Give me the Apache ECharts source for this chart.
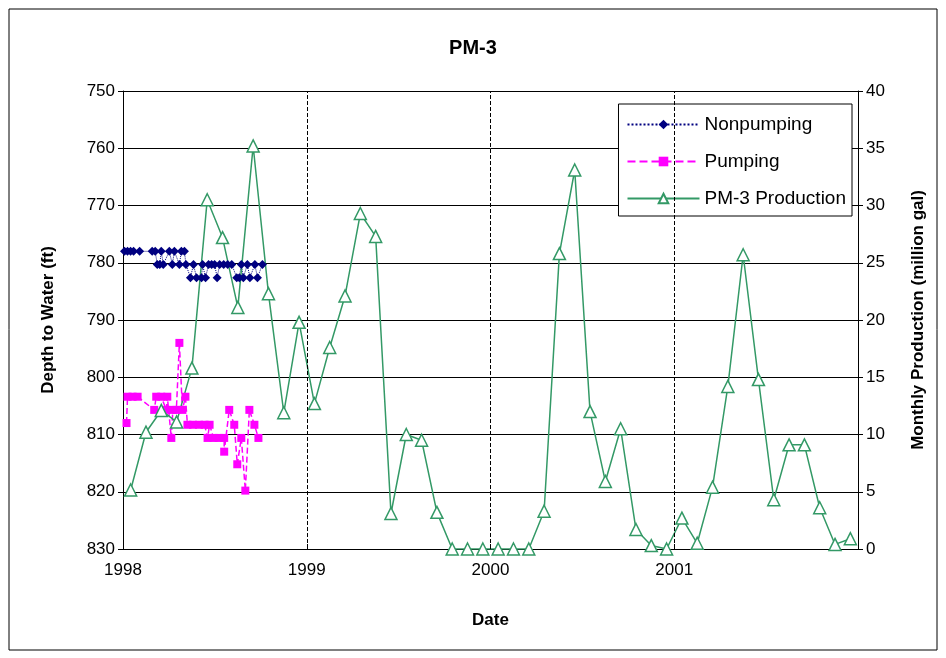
<!DOCTYPE html>
<html><head><meta charset="utf-8">
<script src="https://cdn.jsdelivr.net/npm/echarts@6/dist/echarts.min.js"></script>
<style>body{margin:0;background:#fff}#c{width:946px;height:658px}</style>
</head><body><div id="c"></div>
<script>
// depth to water, nonpumping (ft)
const nonpumping = [
  ['1998-01-04',778],['1998-01-10',778],['1998-01-16',778],['1998-01-22',778],['1998-02-03',778],
  ['1998-02-28',778],['1998-03-06',778],['1998-03-10',780.3],['1998-03-15',780.3],['1998-03-18',778],
  ['1998-03-22',780.3],['1998-04-03',778],['1998-04-09',780.3],['1998-04-13',778],['1998-04-23',780.3],
  ['1998-04-27',778],['1998-05-03',778],['1998-05-06',780.3],['1998-05-15',782.6],['1998-05-21',780.3],
  ['1998-05-27',782.6],['1998-06-06',782.6],['1998-06-08',780.3],['1998-06-14',782.6],['1998-06-20',780.3],
  ['1998-06-26',780.3],['1998-07-02',780.3],['1998-07-07',782.6],['1998-07-12',780.3],['1998-07-20',780.3],
  ['1998-07-28',780.3],['1998-08-05',780.3],['1998-08-15',782.6],['1998-08-20',782.6],['1998-08-24',780.3],
  ['1998-08-28',782.6],['1998-09-05',780.3],['1998-09-10',782.6],['1998-09-20',780.3],['1998-09-25',782.6],
  ['1998-10-05',780.3]
];
// depth to water, pumping (ft)
const pumping = [
  ['1998-01-08',808],['1998-01-10',803.4],['1998-01-20',803.4],['1998-01-30',803.4],['1998-03-04',805.7],
  ['1998-03-08',803.4],['1998-03-18',803.4],['1998-03-28',805.7],['1998-03-30',803.4],['1998-04-07',810.6],
  ['1998-04-10',805.7],['1998-04-17',805.7],['1998-04-23',794],['1998-04-29',805.7],['1998-05-05',803.4],
  ['1998-05-09',808.3],['1998-05-20',808.3],['1998-06-01',808.3],['1998-06-12',808.3],['1998-06-18',810.6],
  ['1998-06-22',808.3],['1998-06-30',810.6],['1998-07-10',810.6],['1998-07-21',810.6],['1998-07-21',813],
  ['1998-07-31',805.7],['1998-08-10',808.3],['1998-08-16',815.2],['1998-08-24',810.6],['1998-09-01',819.8],
  ['1998-09-09',805.7],['1998-09-19',808.3],['1998-09-27',810.6]
];
// monthly production (million gal), Jan 1998 - Dec 2001
const production = [
  5.15,10.2,12.1,11.1,15.8,30.5,27.2,21.1,35.2,22.3,11.9,19.8,
  12.7,17.6,22.1,29.3,27.3,3.1,10,9.5,3.2,0,0,0,
  0,0,0,3.3,25.8,33.1,12,5.9,10.5,1.7,0.3,0,
  2.7,0.5,5.4,14.2,25.7,14.8,4.3,9.1,9.1,3.6,0.4,0.9
];
const yearLines = [1999, 2000, 2001];

// date -> fractional year
const toYear = s => {
  const d = new Date(s + 'T00:00:00Z'), y = d.getUTCFullYear();
  const a = Date.UTC(y, 0, 1), b = Date.UTC(y + 1, 0, 1);
  return y + (d - a) / (b - a);
};
const prodData = production.map((v, i) => [1998 + Math.floor(i / 12) + ((i % 12) + 0.5) / 12, v]);
const font = 'Arial, "Liberation Sans", sans-serif';

const chart = echarts.init(document.getElementById('c'));
chart.setOption({
  animation: false,
  textStyle: {fontFamily: font},
  graphic: [{type: 'rect', shape: {x: 9, y: 9, width: 928, height: 641}, style: {fill: 'none', stroke: '#000', lineWidth: 1}}],
  title: {text: 'PM-3', left: 'center', top: 33, textStyle: {fontSize: 20, fontWeight: 'bold', color: '#000', fontFamily: font}},
  legend: {
    right: 94, top: 104, orient: 'vertical', itemGap: 18, itemWidth: 72, itemHeight: 12,
    backgroundColor: '#fff', borderColor: '#000', borderWidth: 1, padding: [11, 6, 8, 8],
    textStyle: {fontSize: 19, color: '#000', fontFamily: font},
    data: ['Nonpumping', 'Pumping', 'PM-3 Production']
  },
  grid: {left: 123, right: 88, top: 91, bottom: 109},
  xAxis: {
    type: 'value', min: 1998, max: 2002, interval: 1,
    name: 'Date', nameLocation: 'middle', nameGap: 63,
    nameTextStyle: {fontSize: 17, fontWeight: 'bold', color: '#000'},
    axisLine: {lineStyle: {color: '#000'}},
    axisTick: {lineStyle: {color: '#000'}, length: 5, inside: true},
    axisLabel: {formatter: v => v >= 2002 ? '' : String(v), fontSize: 17, color: '#000', margin: 13},
    splitLine: {show: false}
  },
  yAxis: [{
    type: 'value', inverse: true, min: 750, max: 830, interval: 10,
    name: 'Depth to Water (ft)', nameLocation: 'middle', nameGap: 66,
    nameTextStyle: {fontSize: 17, fontWeight: 'bold', color: '#000'},
    axisLine: {show: true, lineStyle: {color: '#000'}},
    axisTick: {show: true, lineStyle: {color: '#000'}},
    axisLabel: {fontSize: 17, color: '#000'},
    splitLine: {lineStyle: {color: '#000', width: 1}}
  }, {
    type: 'value', min: 0, max: 40, interval: 5,
    name: 'Monthly Production (million gal)', nameLocation: 'middle', nameGap: 52,
    nameTextStyle: {fontSize: 17, fontWeight: 'bold', color: '#000'},
    axisLine: {show: true, lineStyle: {color: '#000'}},
    axisTick: {show: true, lineStyle: {color: '#000'}},
    axisLabel: {fontSize: 17, color: '#000'},
    splitLine: {show: false}
  }],
  series: [{
    name: 'Nonpumping', type: 'line', yAxisIndex: 0, data: nonpumping.map(d => [toYear(d[0]), d[1]]),
    symbol: 'diamond', symbolSize: 9, itemStyle: {color: '#000080'},
    lineStyle: {color: '#000080', type: 'dotted', width: 1}
  }, {
    name: 'Pumping', type: 'line', yAxisIndex: 0, data: pumping.map(d => [toYear(d[0]), d[1]]),
    symbol: 'rect', symbolSize: 8, itemStyle: {color: '#ff00ff'},
    lineStyle: {color: '#ff00ff', type: 'dashed', width: 1.5}
  }, {
    name: 'PM-3 Production', type: 'line', yAxisIndex: 1, data: prodData,
    symbol: 'triangle', symbolSize: 12,
    itemStyle: {color: '#fff', borderColor: '#339966', borderWidth: 1.5},
    lineStyle: {color: '#339966', width: 1.5},
    markLine: {
      silent: true, symbol: 'none', label: {show: false},
      lineStyle: {color: '#000', type: 'dashed', width: 1},
      data: yearLines.map(t => ({xAxis: t}))
    }
  }]
});
</script></body></html>
